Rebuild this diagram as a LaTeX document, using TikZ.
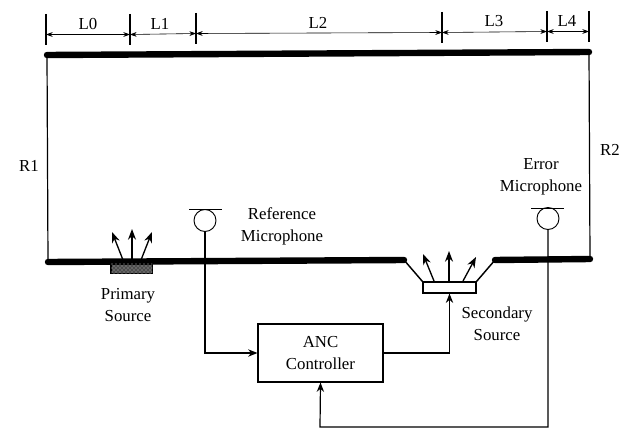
\documentclass[tikz,border=0pt]{standalone}
\usepackage{fontspec}
\setmainfont{Liberation Serif}
\usetikzlibrary{patterns,arrows.meta}
\begin{document}
\begin{tikzpicture}[
    x=0.75pt,
    y=-0.75pt,
    txt/.style={
        align=center,
        inner sep=0pt,
        font=\fontsize{12.6}{16.5}\selectfont
    },
    box/.style={
        draw,
        thick,
        minimum width=93.75pt,
        minimum height=43.5pt,
        align=center,
        font=\fontsize{12.6}{16.5}\selectfont
    },
    mic/.style={draw, circle, line width=0.7pt, minimum size=16.5pt, inner sep=0pt},
    wall/.style={line width=4.8pt, line cap=round},
    thinwall/.style={line width=0.9pt},
    tick/.style={line width=1pt},
    dim/.style={<->, line width=0.45pt, >={Stealth[length=5pt,width=3.6pt]}},
    arrow/.style={->, line width=1pt, >={Stealth[length=8pt,width=6pt]}},
    wire/.style={->, line width=0.9pt, >={Stealth[length=7pt,width=5.5pt]}}
]
    \useasboundingbox (0,0) rectangle (627,428);

    % dimension ticks
    \coordinate (t0a) at (46,14);  \coordinate (t0b) at (46,45);
    \coordinate (t1a) at (130,14); \coordinate (t1b) at (130,45);
    \coordinate (t2a) at (196,13); \coordinate (t2b) at (196,44);
    \coordinate (t3a) at (442,12); \coordinate (t3b) at (442,43);
    \coordinate (t4a) at (547,11); \coordinate (t4b) at (547,42);
    \coordinate (t5a) at (589,11); \coordinate (t5b) at (589,42);
    \draw[tick] (t0a) -- (t0b);
    \draw[tick] (t1a) -- (t1b);
    \draw[tick] (t2a) -- (t2b);
    \draw[tick] (t3a) -- (t3b);
    \draw[tick] (t4a) -- (t4b);
    \draw[tick] (t5a) -- (t5b);
    \coordinate (d0) at (46,34.5);
    \coordinate (d1) at (130,34.5);
    \coordinate (d2) at (196,33.5);
    \coordinate (d3) at (442,32.5);
    \coordinate (d4) at (547,31.5);
    \coordinate (d5) at (589,31.5);
    \draw[dim] (d0) -- (d1);
    \draw[dim] (d1) -- (d2);
    \draw[dim] (d2) -- (d3);
    \draw[dim] (d3) -- (d4);
    \draw[dim] (d4) -- (d5);
    \node[txt] (l0) at (88,24) {L0};
    \node[txt] (l1) at (160,24) {L1};
    \node[txt] (l2) at (318,23) {L2};
    \node[txt] (l3) at (494,21) {L3};
    \node[txt] (l4) at (567,21) {L4};

    % duct
    \coordinate (tl) at (47,55);
    \coordinate (tr) at (589,52);
    \coordinate (bl) at (48,262);
    \coordinate (bm) at (404,260);
    \coordinate (bn) at (495,260);
    \coordinate (br) at (590,259);
    \draw[wall] (tl) -- (tr);
    \draw[wall] (bl) -- (bm);
    \draw[wall] (bn) -- (br);
    \draw[thinwall] (tl) -- (bl);
    \draw[thinwall] (tr) -- (br);
    \node[txt] (r1) at (29,166) {R1};
    \node[txt] (r2) at (610,150) {R2};

    % primary source
    \node[draw=black, line width=1pt, fill=black!70, postaction={pattern=crosshatch dots, pattern color=black!25},
        minimum width=31pt, minimum height=7pt, inner sep=0pt] (prim) at (131.5,268.5) {};
    \coordinate (pa) at (123,260);
    \coordinate (pb) at (132,260);
    \coordinate (pc) at (141,260);
    \coordinate (pd) at (112,232);
    \coordinate (pe) at (132,229);
    \coordinate (pf) at (152,232);
    \draw[arrow] (pa) -- (pd);
    \draw[arrow] (pb) -- (pe);
    \draw[arrow] (pc) -- (pf);
    \node[txt] (primtxt) at (128,305) {Primary\\Source};

    % secondary source
    \node[draw, line width=1.1pt, minimum width=39.5pt, minimum height=8pt, inner sep=0pt] (sec) at (449.5,287.5) {};
    \draw[line width=1.1pt] (bm) -- (sec.north west);
    \draw[line width=1.1pt] (bn) -- (sec.north east);
    \coordinate (sa) at (434,281);
    \coordinate (sb) at (449,281);
    \coordinate (sc) at (463,281);
    \coordinate (sd) at (423,254);
    \coordinate (se) at (449,251);
    \coordinate (sf) at (476,257);
    \draw[arrow] (sa) -- (sd);
    \draw[arrow] (sb) -- (se);
    \draw[arrow] (sc) -- (sf);
    \node[txt] (sectxt) at (497,323.5) {Secondary\\Source};

    % microphones
    \node[mic] (refmic) at (205,220.5) {};
    \coordinate (refa) at (189,209);
    \coordinate (refb) at (222,209);
    \draw[line width=0.7pt] (refa) -- (refb);
    \node[txt] (reftxt) at (282,226) {Reference\\Microphone};
    \node[mic] (errmic) at (548,218.5) {};
    \coordinate (erra) at (531,208);
    \coordinate (errb) at (564,208);
    \draw[line width=0.7pt] (erra) -- (errb);
    \node[txt] (errtxt) at (541,176.5) {Error\\Microphone};

    % controller
    \node[box] (anc) at (320.5,353) {ANC\\Controller};
    \coordinate (low) at (320,427);

    \draw[wire] (refmic.south) |- (anc.west);
    \draw[wire] (anc.east) -| (sec.south);
    \draw[wire] (errmic.south) -- (errmic.south |- low) -- (low) -- (anc.south);
\end{tikzpicture}
\end{document}
